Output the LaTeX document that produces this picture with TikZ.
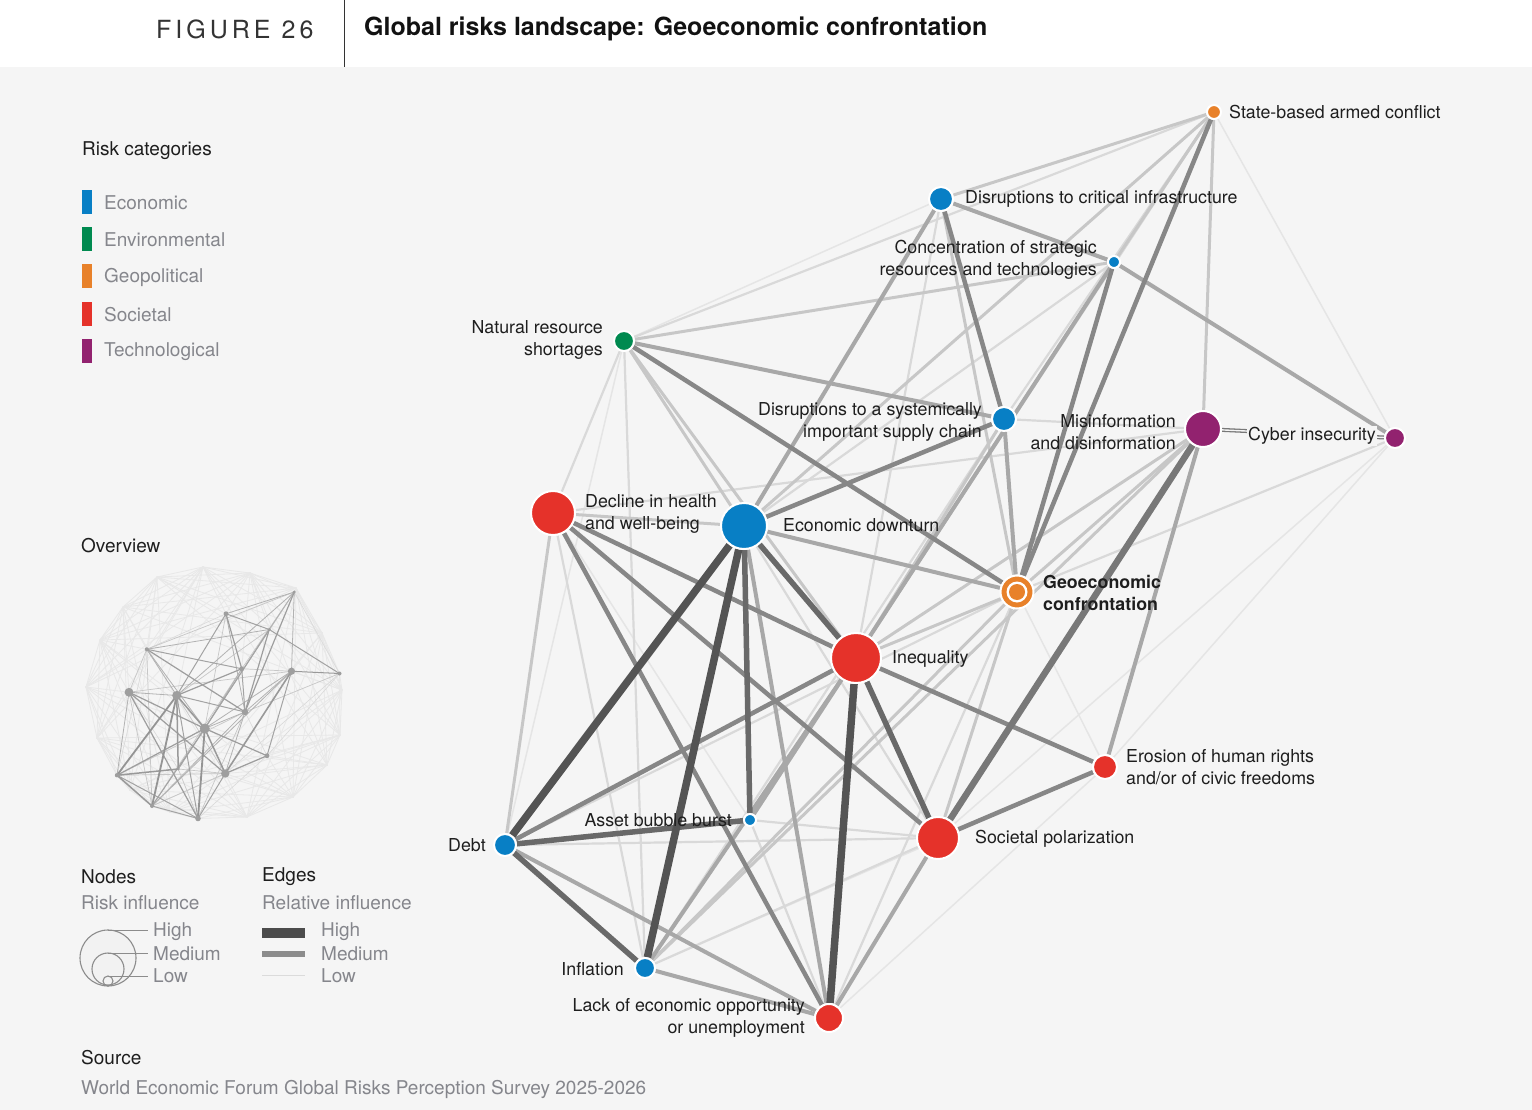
\documentclass[tikz,border=0pt]{standalone}
\usepackage{fontspec}
\setmainfont{TeX Gyre Heros}
\newfontfamily\figfont[LetterSpace=16]{TeX Gyre Heros}
\definecolor{ceco}{HTML}{087FC5}
\definecolor{cenv}{HTML}{008A50}
\definecolor{cgeo}{HTML}{E8812A}
\definecolor{csoc}{HTML}{E5322A}
\definecolor{ctec}{HTML}{92226F}
\definecolor{txtgray}{HTML}{85868C}
\definecolor{txtdark}{HTML}{1E1E1E}
\definecolor{bgc}{HTML}{F5F5F5}
\pgfdeclarelayer{bglayer}
\pgfdeclarelayer{edges}
\pgfsetlayers{bglayer,edges,main}
\def\nodelist{sac/1214/112/cgeo/7, dci/941/199/ceco/12, csr/1114/262/ceco/6, nrs/624/341/cenv/10, dsc/1004/419/ceco/12, mis/1203/429/ctec/18, cyb/1395/438/ctec/10, dhw/553/513/csoc/22, ecd/744/526/ceco/23, ine/856/658/csoc/25, ero/1105/767/csoc/12, sop/938/838/csoc/21, abb/750/820/ceco/6, deb/505/845/ceco/11, inf/645/968/ceco/10, leo/829/1018/csoc/14}
\def\edgelist{sac/cyb/fa, cyb/ero/fa, cyb/sop/fa, dhw/abb/fa, dci/nrs/fa, geo/ero/fa, inf/ero/fa, leo/ero/fa, nrs/deb/fa,
nrs/dhw/vl, dhw/inf/vl, deb/sop/vl, deb/geo/vl, inf/sop/vl, abb/sop/vl, abb/leo/vl, dsc/mis/vl, sac/ine/vl, sac/nrs/vl, sac/dsc/vl, geo/leo/vl, csr/ecd/vl, mis/dhw/vl, cyb/geo/vl, ecd/sop/vl, dci/ine/vl, dsc/inf/vl, nrs/inf/vl,
csr/ine/lo, nrs/ecd/lo, nrs/ine/lo, dhw/deb/lo, dhw/ecd/lo, sac/dci/lo, sac/ecd/lo, sac/mis/lo, sac/csr/lo, mis/geo/lo, mis/ine/lo, mis/inf/lo, dci/geo/lo, dsc/ine/lo, geo/ine/lo, geo/sop/lo, geo/inf/lo, nrs/csr/lo,
mis/ero/ml, dsc/geo/ml, ecd/geo/ml, ecd/leo/ml, sop/leo/ml, inf/ine/ml, deb/leo/ml, inf/leo/ml, nrs/dsc/ml, dci/csr/ml, dci/ecd/ml, csr/cyb/ml, csr/abb/ml, sac/geo/md,
dhw/ine/md, sop/ero/md, ine/ero/md, deb/ine/md, dhw/sop/md, dhw/leo/md, ecd/dsc/md, nrs/geo/md, dci/dsc/md, csr/geo/md,
ecd/abb/mh, ecd/ine/mh, ine/sop/mh, deb/abb/mh, deb/inf/mh, mis/sop/mk, mis/cyb/db,
ecd/inf/hi, ine/leo/hi, ecd/deb/hi}
\newcommand\drawedges[1]{\foreach \a/\b/\s in \edgelist {\draw[#1\s] (#1\a) -- (#1\b);}}
\begin{document}
\begin{tikzpicture}[x=1pt,y=-1pt,
  riskdot/.style={circle, draw=white, line width=2pt, inner sep=0pt},
  lab/.style={font=\fontsize{17.8}{22}\selectfont, text=txtdark, inner sep=0pt},
  leg/.style={font=\fontsize{19}{22}\selectfont, inner sep=0pt, anchor=west},
  mhi/.style={draw=black!67, line width=7.5pt},
  mmh/.style={draw=black!59, line width=5.5pt},
  mmk/.style={draw=black!53, line width=6.5pt},
  mmd/.style={draw=black!47, line width=4.5pt},
  mml/.style={draw=black!34, line width=4pt},
  mlo/.style={draw=black!22, line width=3pt},
  mvl/.style={draw=black!15, line width=2.2pt},
  mfa/.style={draw=black!10, line width=1.5pt},
  mdb/.style={draw=black!53, line width=1.3pt, double=bgc, double distance=1.4pt},
  ohi/.style={draw=black!42, line width=1.8pt},
  omh/.style={draw=black!40, line width=1.5pt},
  omk/.style={draw=black!40, line width=1.6pt},
  omd/.style={draw=black!38, line width=1.2pt},
  oml/.style={draw=black!36, line width=1pt},
  olo/.style={draw=black!30, line width=0.8pt},
  ovl/.style={draw=black!22, line width=0.7pt},
  ofa/.style={draw=black!15, line width=0.6pt},
  odb/.style={draw=black!40, line width=1pt},
  ofaint/.style={draw=black!9, line width=0.8pt}]
\useasboundingbox (0,0) rectangle (1532,1110);
\begin{pgfonlayer}{bglayer}
\fill[bgc] (0,67) rectangle (1532,1110);
\fill[white] (0,0) rectangle (1532,67);
\end{pgfonlayer}
\draw[black!80, line width=1pt] (344,0) -- (344,67);
\node[anchor=west, inner sep=0pt, text=black!80, font=\figfont\fontsize{25}{30}\selectfont] (figno) at (156,29) {FIGURE 26};
\node[anchor=west, inner sep=0pt, text=black!93, font=\bfseries\fontsize{25}{30}\selectfont] (title) at (364,29) {Global risks landscape: Geoeconomic confrontation};
% main nodes
\foreach \n/\x/\y/\c/\r in \nodelist {\node[riskdot, fill=\c, minimum size={2*\r pt}] (m\n) at (\x,\y) {};}
\node[riskdot, fill=cgeo, minimum size=33pt] (mgeo) at (1017,592) {};
\fill[white] (mgeo.center) circle (10.5pt);
\fill[cgeo] (mgeo.center) circle (8pt);
\begin{pgfonlayer}{edges}
\drawedges{m}
\end{pgfonlayer}
% labels
\node[lab, anchor=west] (lsac) at (1229,112) {State-based armed conflict};
\node[lab, anchor=west] (ldci) at (965,199) {Disruptions to critical infrastructure};
\node[lab, anchor=east, align=right] (lcsr) at (1097,260) {Concentration of strategic\\resources and technologies};
\node[lab, anchor=east, align=right] (lnrs) at (603,340) {Natural resource\\shortages};
\node[lab, anchor=east, align=right] (ldsc) at (982,422) {Disruptions to a systemically\\important supply chain};
\node[lab, anchor=east, align=right] (lmis) at (1176,432) {Misinformation\\and disinformation};
\node[lab, anchor=west, fill=bgc, inner sep=1pt] (lcyb) at (1247,436) {Cyber insecurity};
\node[lab, anchor=west, align=left] (ldhw) at (585,514) {Decline in health\\and well-being};
\node[lab, anchor=west] (lecd) at (783,525) {Economic downturn};
\node[lab, anchor=west, align=left, font=\bfseries\fontsize{17.8}{22}\selectfont] (lgeo) at (1043,593) {Geoeconomic\\confrontation};
\node[lab, anchor=west] (line) at (892,659) {Inequality};
\node[lab, anchor=west, align=left] (lero) at (1126,767) {Erosion of human rights\\and/or of civic freedoms};
\node[lab, anchor=west] (lsop) at (975,839) {Societal polarization};
\node[lab, anchor=east] (labb) at (732,820) {Asset bubble burst};
\node[lab, anchor=east] (ldeb) at (486,845) {Debt};
\node[lab, anchor=east] (linf) at (624,969) {Inflation};
\node[lab, anchor=east, align=right] (lleo) at (805,1018) {Lack of economic opportunity\\or unemployment};
% legend: categories
\node[leg, text=txtdark] (rcat) at (82,151) {Risk categories};
\fill[ceco] (82,190) rectangle (92,214);
\fill[cenv] (82,227) rectangle (92,251);
\fill[cgeo] (82,264) rectangle (92,288);
\fill[csoc] (82,302) rectangle (92,326);
\fill[ctec] (82,339) rectangle (92,363);
\node[leg, text=txtgray] (keco) at (104,203) {Economic};
\node[leg, text=txtgray] (kenv) at (104,240) {Environmental};
\node[leg, text=txtgray] (kgeo) at (104,277) {Geopolitical};
\node[leg, text=txtgray] (ksoc) at (104,315) {Societal};
\node[leg, text=txtgray] (ktec) at (104,352) {Technological};
% overview
\node[leg, text=txtdark] (ovt) at (81,546) {Overview};
\begin{scope}[shift={(-9.25,564)}, scale=0.25]
\foreach \n/\x/\y/\c/\r in \nodelist {\coordinate (o\n) at (\x,\y);}
\coordinate (ogeo) at (1017,592);
\end{scope}
\foreach \i/\x/\y in {1/203/567, 2/250/573, 3/296/588, 4/322/633, 5/342/690, 6/340/735, 7/327/765, 8/293/797, 9/247/817, 10/170/812, 11/130/790, 12/97/738, 13/86/687, 14/100/640, 15/123/607, 16/157/577}
  {\coordinate (f\i) at (\x,\y);}
\foreach \i in {1,...,16}{\foreach \k in {1,...,6}{\pgfmathtruncatemacro\j{mod(\i+\k-1,16)+1}\draw[ofaint] (f\i) -- (f\j);}}
\foreach \i/\m in {1/nrs,1/dci,1/dhw,1/ecd,2/dci,2/sac,2/csr,2/dsc,3/sac,3/cyb,4/cyb,4/mis,4/sac,5/cyb,5/ero,5/mis,6/ero,6/cyb,6/sop,7/ero,7/sop,8/sop,8/leo,8/ero,9/leo,9/sop,9/inf,10/leo,10/inf,10/deb,11/deb,11/inf,11/abb,12/deb,12/dhw,12/inf,13/dhw,13/deb,13/nrs,14/dhw,14/nrs,14/ecd,15/nrs,15/dhw,16/nrs,16/dci}
  {\draw[ofaint] (f\i) -- (o\m);}
\drawedges{o}
\foreach \n/\x/\y/\c/\r in \nodelist {\pgfmathsetmacro\rr{max(1.6,0.2*\r)}\fill[black!38] (o\n) circle (\rr pt);}
\fill[black!38] (ogeo) circle (3.2pt);
% nodes/edges legend
\node[leg, text=txtdark] (nodest) at (81,877) {Nodes};
\node[leg, text=txtgray] (nodess) at (81,903) {Risk influence};
\node[leg, text=txtdark] (edgest) at (262,877) {Edges};
\node[leg, text=txtgray] (edgess) at (262,903) {Relative influence};
\draw[black!45, line width=1.1pt, fill=black!5] (108,958) circle (28pt);
\draw[black!45, line width=1.1pt] (108,969) circle (16pt);
\draw[black!45, line width=1.1pt] (108,981) circle (5pt);
\draw[black!45, line width=1pt] (108,930) -- (148,930);
\draw[black!45, line width=1pt] (108,953) -- (148,953);
\draw[black!45, line width=1pt] (108,976) -- (148,976);
\node[leg, text=txtgray] (nh) at (153,932) {High};
\node[leg, text=txtgray] (nm) at (153,954) {Medium};
\node[leg, text=txtgray] (nl) at (153,976) {Low};
\fill[black!70] (262,928) rectangle (305,938);
\fill[black!45] (262,951) rectangle (305,957);
\draw[black!14, line width=1pt] (262,975) -- (305,975);
\node[leg, text=txtgray] (eh) at (321,932) {High};
\node[leg, text=txtgray] (em) at (321,954) {Medium};
\node[leg, text=txtgray] (el) at (321,976) {Low};
\node[leg, text=txtdark] (srct) at (81,1058) {Source};
\node[leg, text=txtgray] (srcs) at (81,1089) {World Economic Forum Global Risks Perception Survey 2025-2026};
\end{tikzpicture}
\end{document}
